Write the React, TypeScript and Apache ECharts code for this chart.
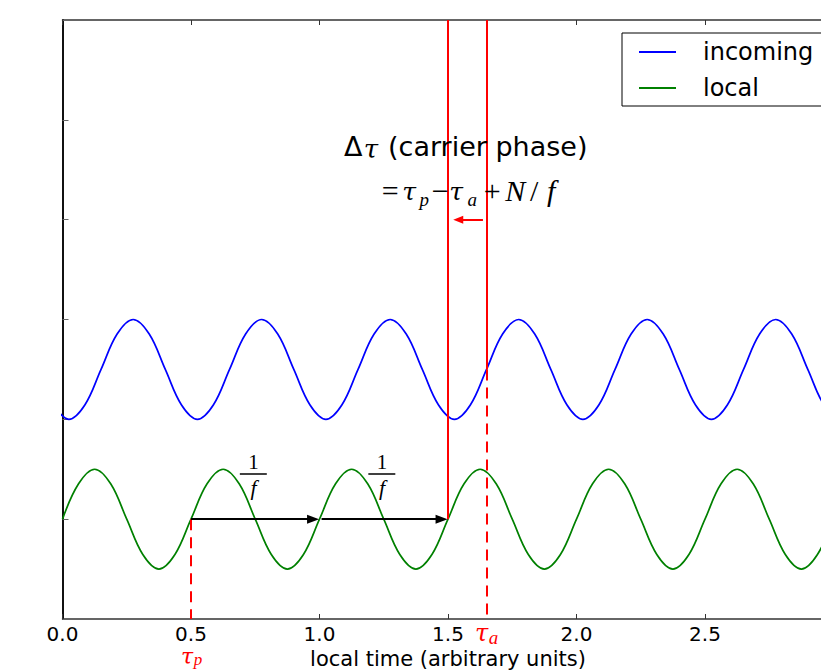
import React, { useEffect, useRef } from "react";
import * as echarts from "echarts";

// x tick values
const X_TICKS = [0, 0.5, 1, 1.5, 2, 2.5, 3];
const X_LABEL = "local time (arbitrary units)";

// local oscillator samples (time, value)
const LOCAL_T = [
  0, 0.0625, 0.125, 0.1875, 0.25, 0.3125, 0.375, 0.4375,
  0.5, 0.5625, 0.625, 0.6875, 0.75, 0.8125, 0.875, 0.9375,
  1, 1.0625, 1.125, 1.1875, 1.25, 1.3125, 1.375, 1.4375,
  1.5, 1.5625, 1.625, 1.6875, 1.75, 1.8125, 1.875, 1.9375,
  2, 2.0625, 2.125, 2.1875, 2.25, 2.3125, 2.375, 2.4375,
  2.5, 2.5625, 2.625, 2.6875, 2.75, 2.8125, 2.875, 2.9375, 3,
];
const LOCAL_Y = [
  0, 0.354, 0.5, 0.354, 0, -0.354, -0.5, -0.354,
  0, 0.354, 0.5, 0.354, 0, -0.354, -0.5, -0.354,
  0, 0.354, 0.5, 0.354, 0, -0.354, -0.5, -0.354,
  0, 0.354, 0.5, 0.354, 0, -0.354, -0.5, -0.354,
  0, 0.354, 0.5, 0.354, 0, -0.354, -0.5, -0.354,
  0, 0.354, 0.5, 0.354, 0, -0.354, -0.5, -0.354, 0,
];

// incoming signal samples (time, value)
const INCOMING_T = [
  -0.0375, 0.025, 0.0875, 0.15, 0.2125, 0.275, 0.3375, 0.4, 0.4625,
  0.525, 0.5875, 0.65, 0.7125, 0.775, 0.8375, 0.9, 0.9625,
  1.025, 1.0875, 1.15, 1.2125, 1.275, 1.3375, 1.4, 1.4625,
  1.525, 1.5875, 1.65, 1.7125, 1.775, 1.8375, 1.9, 1.9625,
  2.025, 2.0875, 2.15, 2.2125, 2.275, 2.3375, 2.4, 2.4625,
  2.525, 2.5875, 2.65, 2.7125, 2.775, 2.8375, 2.9, 2.9625, 3.025,
];
const INCOMING_Y = [
  1.146, 1.0, 1.146, 1.5, 1.854, 2.0, 1.854, 1.5, 1.146,
  1.0, 1.146, 1.5, 1.854, 2.0, 1.854, 1.5, 1.146,
  1.0, 1.146, 1.5, 1.854, 2.0, 1.854, 1.5, 1.146,
  1.0, 1.146, 1.5, 1.854, 2.0, 1.854, 1.5, 1.146,
  1.0, 1.146, 1.5, 1.854, 2.0, 1.854, 1.5, 1.146,
  1.0, 1.146, 1.5, 1.854, 2.0, 1.854, 1.5, 1.146, 1.0,
];

// key annotation values
const TAU_P = 0.5;
const TAU_A = 1.65;
const PERIOD_END = 1.5;
const MID = 1.0;
const Y_MIN = -1;
const Y_MAX = 5;

const SANS = "DejaVu Sans";
const SERIF = "Liberation Serif";
const MATH = "DejaVu Serif";
const RED = "#ff0000";

type Tok = {
  t: string;
  dx: number;
  dy?: number;
  size: number;
  italic?: boolean;
  font?: string;
  align?: string;
  lh?: number;
};

export default function App() {
  const ref = useRef<HTMLDivElement>(null);

  useEffect(() => {
    if (!ref.current) return;
    const chart = echarts.init(ref.current, null, { renderer: "svg" });

    const zip = (xs: number[], ys: number[]) => xs.map((x, i) => [x, ys[i]]);

    const redSolid = { color: RED, width: 2, type: "solid" as const };
    const redDash = { color: RED, width: 2, type: [11, 7] as any };
    const blackArrow = { color: "#000", width: 2, type: "solid" as const };
    const fracBar = { color: "#000", width: 1.5, type: "solid" as const };

    const axisCommon = {
      type: "value" as const,
      min: 0,
      max: 3,
      interval: 0.5,
      splitLine: { show: false },
    };

    chart.setOption({
      animation: false,
      backgroundColor: "#fff",
      grid: {
        left: 62.5,
        right: -12.5,
        top: 20,
        bottom: 51,
        containLabel: false,
        outerBoundsMode: "none",
      },
      legend: {
        orient: "vertical",
        left: 622,
        top: 33,
        data: [
          { name: "incoming", icon: "rect" },
          { name: "local", icon: "rect" },
        ],
        itemWidth: 37,
        itemHeight: 2,
        itemGap: 12,
        padding: [7, 60, 6, 17],
        borderColor: "#000",
        borderWidth: 1,
        borderRadius: 0,
        backgroundColor: "#fff",
        textStyle: {
          fontSize: 24,
          fontFamily: SANS,
          color: "#000",
          lineHeight: 24,
          padding: [0, 0, 0, 22],
        },
      },
      xAxis: [
        {
          ...axisCommon,
          position: "bottom",
          name: X_LABEL,
          nameLocation: "middle",
          nameGap: 19,
          nameTextStyle: { fontSize: 21, fontFamily: SANS, color: "#000", verticalAlign: "top" },
          axisLine: { show: true, onZero: false, lineStyle: { color: "#333", width: 1.5 } },
          axisTick: { show: true, inside: true, length: 5, lineStyle: { color: "#333", width: 1 } },
          axisLabel: {
            show: true,
            margin: 5,
            fontSize: 20,
            fontFamily: SANS,
            color: "#000",
            showMaxLabel: false,
            formatter: (v: number) => v.toFixed(1),
          },
        },
        {
          ...axisCommon,
          position: "top",
          axisLine: { show: true, onZero: false, lineStyle: { color: "#333", width: 1.5 } },
          axisTick: { show: true, inside: true, length: 5, lineStyle: { color: "#333", width: 1 } },
          axisLabel: { show: false },
        },
      ],
      yAxis: {
        type: "value",
        min: Y_MIN,
        max: Y_MAX,
        interval: 1,
        splitLine: { show: false },
        axisLine: { show: true, onZero: false, lineStyle: { color: "#111", width: 2 } },
        axisTick: { show: true, inside: true, length: 6, lineStyle: { color: "#666", width: 1 } },
        axisLabel: { show: false },
      },
      series: [
        {
          name: "incoming",
          type: "line",
          data: zip(INCOMING_T, INCOMING_Y),
          smooth: 0.37,
          symbol: "none",
          color: "#0000ff",
          lineStyle: { width: 1.7, color: "#0000ff" },
          z: 3,
        },
        {
          name: "local",
          type: "line",
          data: zip(LOCAL_T, LOCAL_Y),
          smooth: 0.37,
          symbol: "none",
          color: "#008000",
          lineStyle: { width: 1.7, color: "#008000" },
          z: 3,
          markLine: {
            silent: true,
            animation: false,
            label: { show: false },
            symbol: "none",
            data: [
              [
                { coord: [PERIOD_END, Y_MAX], symbol: "none", lineStyle: redSolid },
                { coord: [PERIOD_END, 0], symbol: "none" },
              ],
              [
                { coord: [TAU_A, Y_MAX], symbol: "none", lineStyle: redSolid },
                { coord: [TAU_A, 1.5], symbol: "none" },
              ],
              [
                { coord: [TAU_A, 1.5], symbol: "none", lineStyle: redDash },
                { coord: [TAU_A, Y_MIN], symbol: "none" },
              ],
              [
                { coord: [TAU_P, 0], symbol: "none", lineStyle: redDash },
                { coord: [TAU_P, Y_MIN], symbol: "none" },
              ],
              [
                { coord: [TAU_P, 0], symbol: "none", lineStyle: blackArrow },
                { coord: [MID - 0.025, 0], symbol: "triangle", symbolSize: [9, 12] },
              ],
              [
                { coord: [MID + 0.008, 0], symbol: "none", lineStyle: blackArrow },
                { coord: [PERIOD_END - 0.025, 0], symbol: "triangle", symbolSize: [9, 12] },
              ],
              [
                { coord: [TAU_A - 0.014, 3.0], symbol: "none", lineStyle: redSolid },
                { coord: [PERIOD_END + 0.04, 3.0], symbol: "triangle", symbolSize: [8, 10] },
              ],
              [
                { coord: [0.69, 0.455], symbol: "none", lineStyle: fracBar },
                { coord: [0.795, 0.455], symbol: "none" },
              ],
              [
                { coord: [1.19, 0.455], symbol: "none", lineStyle: fracBar },
                { coord: [1.295, 0.455], symbol: "none" },
              ],
            ],
          },
        },
      ],
    });

    const px = (x: number, y: number) =>
      chart.convertToPixel({ xAxisIndex: 0, yAxisIndex: 0 }, [x, y]) as number[];

    // a row of text tokens laid out around an anchor given in data units
    const tokens = (x: number, y: number, toks: Tok[], color: string) => {
      const [X, Y] = px(x, y);
      return toks.map((k) => ({
        type: "text",
        x: X + k.dx,
        y: Y + (k.dy || 0),
        silent: true,
        z: 10,
        style: {
          text: k.t,
          fill: color,
          font: `${k.italic ? "italic " : ""}${k.size}px "${k.font || SERIF}"`,
          lineHeight: k.lh || Math.round(k.size * 0.8),
          align: k.align || "center",
          verticalAlign: "middle",
        },
      }));
    };

    chart.setOption({
      graphic: [
        ...tokens(1.574, 3.73, [
          { t: "Δ", dx: -123, size: 27, font: SANS, align: "left" },
          { t: "τ", dx: -96, size: 26, italic: true, dy: 2, font: MATH },
          { t: "(carrier phase)", dx: -79, size: 27, font: SANS, align: "left" },
        ], "#000"),
        ...tokens(1.59, 3.29, [
          { t: "=", dx: -81, size: 30 },
          { t: "τ", dx: -62, size: 25, italic: true, font: MATH, dy: 1 },
          { t: "p", dx: -47, size: 19, italic: true, dy: 9 },
          { t: "−", dx: -31, size: 30 },
          { t: "τ", dx: -15, size: 25, italic: true, font: MATH, dy: 1 },
          { t: "a", dx: 1, size: 19, italic: true, dy: 9 },
          { t: "+", dx: 21, size: 30 },
          { t: "N", dx: 44, size: 30, italic: true },
          { t: "/", dx: 63, size: 30 },
          { t: "f", dx: 80, size: 30, italic: true },
        ], "#000"),
        ...tokens(0.743, 0.57, [{ t: "1", dx: 0, size: 21 }], "#000"),
        ...tokens(0.743, 0.32, [{ t: "f", dx: 0, size: 22, italic: true }], "#000"),
        ...tokens(1.243, 0.57, [{ t: "1", dx: 0, size: 21 }], "#000"),
        ...tokens(1.243, 0.32, [{ t: "f", dx: 0, size: 22, italic: true }], "#000"),
        ...tokens(TAU_A, -1.14, [
          { t: "τ", dx: -5, size: 24, italic: true, font: MATH },
          { t: "a", dx: 7, size: 19, italic: true, dy: 5 },
        ], RED),
        ...tokens(TAU_P, -1.38, [
          { t: "τ", dx: -4, size: 22, italic: true, font: MATH, lh: 14 },
          { t: "p", dx: 7, size: 17, italic: true, dy: 3, lh: 11 },
        ], RED),
      ],
    });

    return () => chart.dispose();
  }, []);

  return (
    <div
      ref={ref}
      style={{ position: "absolute", left: 0, top: 0, width: 821, height: 670, overflow: "hidden" }}
    />
  );
}
